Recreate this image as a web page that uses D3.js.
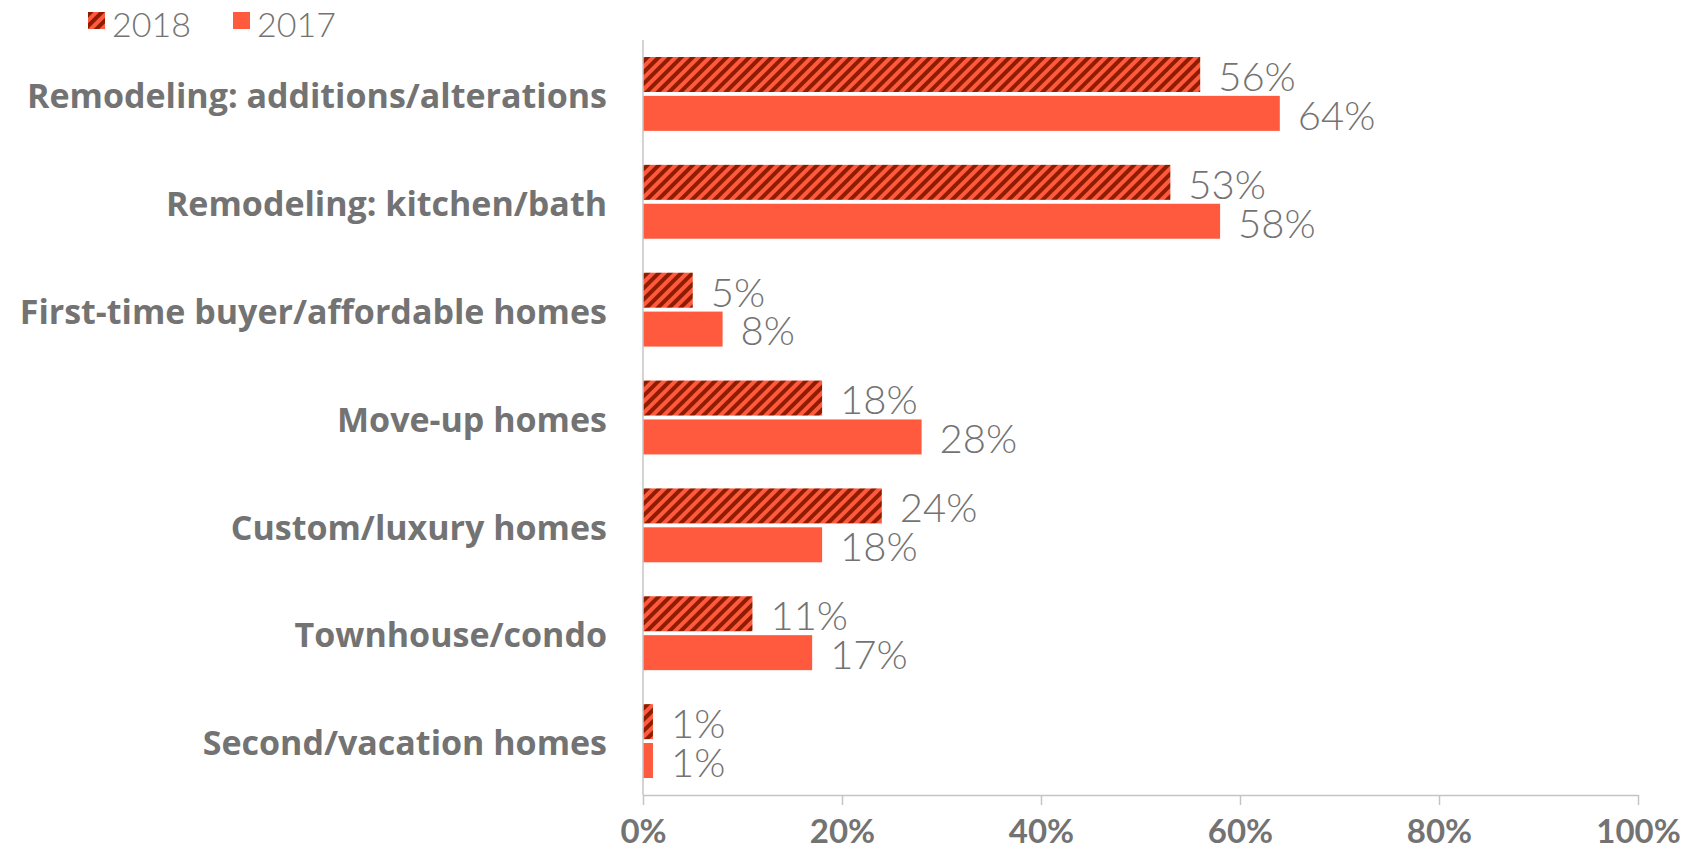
<!DOCTYPE html>
<html>
<head>
<meta charset="utf-8">
<script src="https://cdn.jsdelivr.net/npm/d3@7"></script>
<style>
  html, body { margin: 0; padding: 0; background: #fff; }
  svg { display: block; }
</style>
</head>
<body>
<svg id="chart" width="1691" height="851"></svg>
<script>
// Home-building segments, share of respondents by year
const categories = [
  "Remodeling: additions/alterations",
  "Remodeling: kitchen/bath",
  "First-time buyer/affordable homes",
  "Move-up homes",
  "Custom/luxury homes",
  "Townhouse/condo",
  "Second/vacation homes"
];
const seriesNames = ["2018", "2017"];
const values2018 = [56, 53, 5, 18, 24, 11, 1];
const values2017 = [64, 58, 8, 28, 18, 17, 1];
const tickValues = [0, 20, 40, 60, 80, 100];

const orange = "#ff5a3d";
const darkRed = "#8f1c00";
const grey = "#737373";
const axisGrey = "#c4c4c4";

const svg = d3.select("#chart");
const plot = { left: 643, right: 1638, top: 40, bottom: 795 };

const x = d3.scaleLinear().domain([0, 100]).range([plot.left, plot.right]);
const y = d3.scaleBand().domain(categories).range([plot.top, plot.bottom]).paddingInner(0.315).paddingOuter(0.1575);
const ySeries = d3.scaleBand().domain(seriesNames).range([0, y.bandwidth()]).paddingInner(0.1);

// diagonal hatch used for the 2018 series
const defs = svg.append("defs");
const pat = defs.append("pattern")
  .attr("id", "hatch")
  .attr("patternUnits", "userSpaceOnUse")
  .attr("width", 8).attr("height", 8)
  .attr("patternTransform", "rotate(45)");
pat.append("rect").attr("width", 8).attr("height", 8).attr("fill", orange);
pat.append("rect").attr("x", 0).attr("width", 4).attr("height", 8).attr("fill", darkRed);

const rows = categories.map((c, i) => ({ cat: c, v2018: values2018[i], v2017: values2017[i] }));

// bars
const groups = svg.append("g").selectAll("g")
  .data(rows).join("g")
  .attr("transform", d => `translate(0,${y(d.cat)})`);

groups.append("rect")
  .attr("x", x(0))
  .attr("y", ySeries("2018"))
  .attr("width", d => x(d.v2018) - x(0))
  .attr("height", ySeries.bandwidth())
  .attr("fill", "url(#hatch)");

groups.append("rect")
  .attr("x", x(0))
  .attr("y", ySeries("2017"))
  .attr("width", d => x(d.v2017) - x(0))
  .attr("height", ySeries.bandwidth())
  .attr("fill", orange);

// value labels
const valueFont = "Lato, 'Open Sans', sans-serif";
groups.append("text")
  .attr("x", d => x(d.v2018) + 18)
  .attr("y", ySeries("2018") + ySeries.bandwidth() / 2 + 2)
  .attr("dy", "0.36em")
  .attr("font-family", valueFont).attr("font-weight", 300)
  .attr("font-size", 40).attr("fill", grey)
  .text(d => d.v2018 + "%");

groups.append("text")
  .attr("x", d => x(d.v2017) + 18)
  .attr("y", ySeries("2017") + ySeries.bandwidth() / 2 + 2)
  .attr("dy", "0.36em")
  .attr("font-family", valueFont).attr("font-weight", 300)
  .attr("font-size", 40).attr("fill", grey)
  .text(d => d.v2017 + "%");

// category axis
const yAxis = svg.append("g")
  .attr("transform", `translate(${plot.left},0)`)
  .call(d3.axisLeft(y).tickSize(0).tickPadding(36));
yAxis.select(".domain").attr("stroke", axisGrey).attr("stroke-width", 1.5)
  .attr("d", `M0,${plot.top}V${plot.bottom}`);
yAxis.selectAll("text")
  .attr("font-family", "'Open Sans', Roboto, sans-serif")
  .attr("font-weight", 700)
  .attr("font-size", 34)
  .attr("fill", grey)
  .attr("dy", "0.42em");

// value axis
const xAxis = svg.append("g")
  .attr("transform", `translate(0,${plot.bottom})`)
  .call(d3.axisBottom(x).tickValues(tickValues).tickFormat(d => d + "%").tickSize(10).tickSizeOuter(0).tickPadding(15));
xAxis.select(".domain").attr("stroke", axisGrey).attr("stroke-width", 1.5);
xAxis.selectAll(".tick line").attr("stroke", axisGrey).attr("stroke-width", 1.5);
xAxis.selectAll("text")
  .attr("font-family", "Lato, sans-serif")
  .attr("font-weight", 700)
  .attr("font-size", 33)
  .attr("fill", grey);

// legend
const legend = svg.append("g");
const legendItems = [
  { name: "2018", fill: "url(#hatch)", x: 88 },
  { name: "2017", fill: orange, x: 233 }
];
const li = legend.selectAll("g").data(legendItems).join("g")
  .attr("transform", d => `translate(${d.x},12)`);
li.append("rect").attr("width", 17).attr("height", 17).attr("fill", d => d.fill);
li.append("text")
  .attr("x", 24).attr("y", 13).attr("dy", "0.36em")
  .attr("font-family", "Lato, sans-serif").attr("font-weight", 300)
  .attr("font-size", 34).attr("fill", grey)
  .text(d => d.name);
</script>
</body>
</html>
